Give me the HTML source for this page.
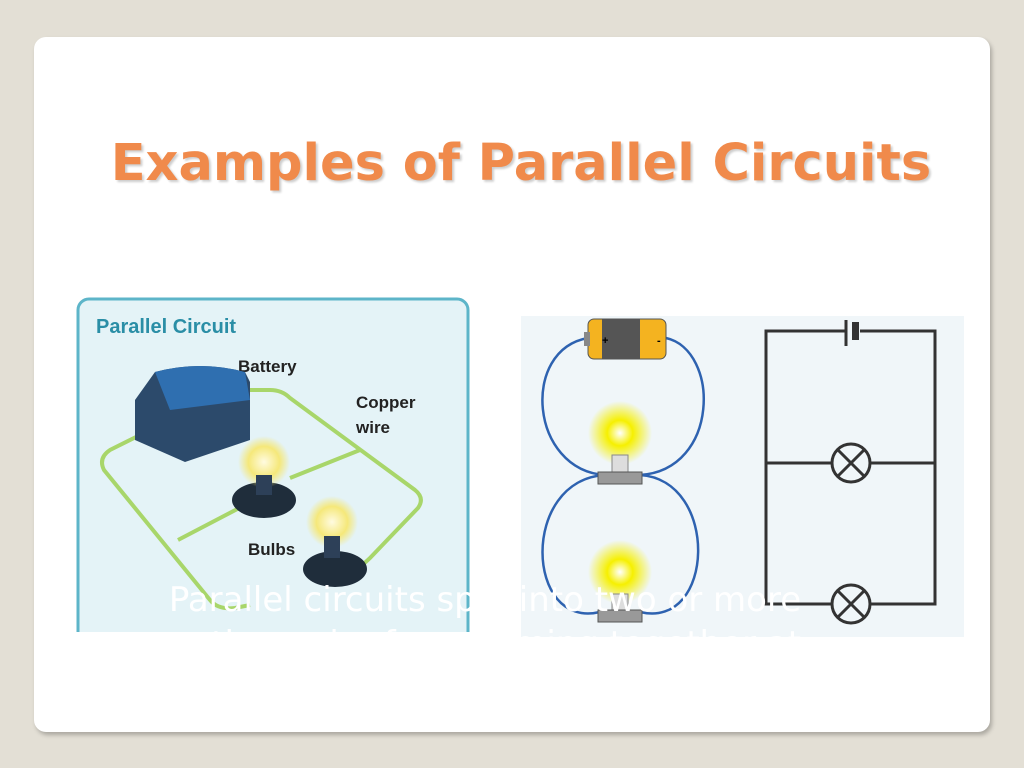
<!DOCTYPE html>
<html><head><meta charset="utf-8"><style>
body{margin:0;width:1024px;height:768px;background:#e3dfd5;position:relative;overflow:hidden;font-family:"Liberation Sans",sans-serif}
.card{position:absolute;left:34px;top:37px;width:956px;height:695px;background:#fff;border-radius:12px;box-shadow:2px 3px 4px rgba(0,0,0,.25)}
.title{position:absolute;left:0;width:1042px;top:134px;text-align:center;font-family:"DejaVu Sans",sans-serif;font-size:51px;font-weight:bold;color:#f08a4b;text-shadow:2px 2px 2px rgba(0,0,0,.2);white-space:nowrap}
.cap{position:absolute;left:0;width:970px;text-align:center;color:#fff;font-family:"DejaVu Sans",sans-serif;font-size:34px;top:578px;line-height:44px;white-space:nowrap}
</style></head><body>
<div class="card"></div>
<div class="title">Examples of Parallel Circuits</div>
<svg style="position:absolute;left:0;top:0" width="1024" height="768">
<defs>
<radialGradient id="g"><stop offset="0" stop-color="#fff"/><stop offset=".4" stop-color="#f6f000"/><stop offset="1" stop-color="#f6f000" stop-opacity="0"/></radialGradient>
<radialGradient id="g2"><stop offset="0" stop-color="#fffbe0"/><stop offset=".6" stop-color="#f5e87a"/><stop offset="1" stop-color="#f5e87a" stop-opacity="0"/></radialGradient>
</defs>
<path d="M78 632 V310 a11 11 0 0 1 11 -11 H457 a11 11 0 0 1 11 11 V632 Z" fill="#e4f3f7"/>
<path d="M78 632 V310 a11 11 0 0 1 11 -11 H457 a11 11 0 0 1 11 11 V632" fill="none" stroke="#5db5c9" stroke-width="3"/>
<text x="96" y="333" font-size="20" font-weight="bold" fill="#2a8ea6">Parallel Circuit</text>
<text x="238" y="372" font-size="17" font-weight="bold" fill="#222">Battery</text>
<text x="356" y="408" font-size="17" font-weight="bold" fill="#222">Copper</text>
<text x="356" y="433" font-size="17" font-weight="bold" fill="#222">wire</text>
<text x="248" y="555" font-size="17" font-weight="bold" fill="#222">Bulbs</text>
<g fill="none" stroke="#a8d66a" stroke-width="4">
<path d="M240 390 H270 Q282 390 290 398 L415 490 Q425 498 418 508 L370 558 Q360 568 350 572 L315 575"/>
<path d="M140 435 L110 450 Q98 458 104 470 L210 600 Q218 610 235 608 L250 605"/>
<path d="M360 450 L290 478"/>
<path d="M245 505 L178 540"/>
</g>
<path d="M135 400 L155 372 Q200 360 245 372 L250 382 V440 L185 462 L135 440 Z" fill="#2c4a6b"/>
<path d="M155 372 Q200 360 245 372 L250 400 L170 410 Z" fill="#2f6fb0"/>
<ellipse cx="264" cy="500" rx="32" ry="18" fill="#1f2d3b"/>
<circle cx="264" cy="462" r="26" fill="url(#g2)"/>
<rect x="256" y="475" width="16" height="20" fill="#2d4058"/>
<ellipse cx="335" cy="569" rx="32" ry="18" fill="#1f2d3b"/>
<circle cx="332" cy="522" r="26" fill="url(#g2)"/>
<rect x="324" y="536" width="16" height="22" fill="#2d4058"/>
<rect x="521" y="316" width="443" height="321" fill="#f0f6f9"/>
<g fill="none" stroke="#2e62b0" stroke-width="2.5">
<path d="M588 338 C520 350 530 470 605 475"/>
<path d="M666 338 C720 350 720 470 640 475"/>
<path d="M605 475 C520 480 525 630 600 612"/>
<path d="M640 475 C720 480 715 630 640 612"/>
</g>
<rect x="588" y="319" width="78" height="40" rx="6" fill="#f4b320" stroke="#555" stroke-width="1"/>
<rect x="602" y="319" width="38" height="40" fill="#555"/>
<rect x="584" y="332" width="6" height="14" fill="#888"/>
<text x="602" y="344" font-size="11" font-weight="bold">+</text>
<text x="657" y="344" font-size="11" font-weight="bold">-</text>
<circle cx="620" cy="433" r="32" fill="url(#g)"/>
<rect x="612" y="455" width="16" height="20" fill="#ddd" stroke="#888"/>
<rect x="598" y="472" width="44" height="12" fill="#999" stroke="#555"/>
<circle cx="620" cy="572" r="32" fill="url(#g)"/>
<rect x="612" y="594" width="16" height="18" fill="#ddd" stroke="#888"/>
<rect x="598" y="610" width="44" height="12" fill="#999" stroke="#555"/>
<g fill="none" stroke="#333" stroke-width="3">
<path d="M846 331 H766 V604 H832"/>
<path d="M860 331 H935 V604 H870"/>
<path d="M766 463 H832 M870 463 H935"/>
<path d="M846 320 V346"/>
<circle cx="851" cy="463" r="19"/>
<path d="M838 450 L864 476 M864 450 L838 476"/>
<circle cx="851" cy="604" r="19"/>
<path d="M838 591 L864 617 M864 591 L838 617"/>
</g>
<rect x="852" y="322" width="7" height="18" fill="#333"/>
</svg>
<div class="cap">Parallel circuits split into two or more<br>paths and reform coming together at</div>
<div style="position:absolute;left:34px;top:637px;width:956px;height:60px;background:#fff"></div>
</body></html>
